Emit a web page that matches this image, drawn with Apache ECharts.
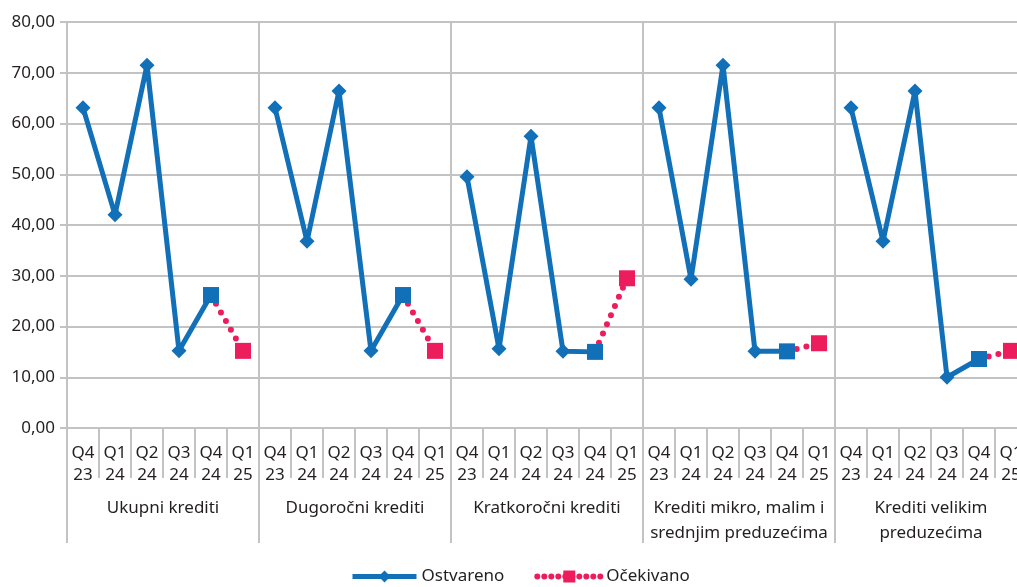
<!DOCTYPE html>
<html>
<head>
<meta charset="utf-8">
<script src="https://cdn.jsdelivr.net/npm/echarts@6/dist/echarts.min.js"></script>
<style>
  html, body { margin: 0; padding: 0; background: #fff; overflow: hidden; }
  #chart { width: 1027px; height: 587px; }
</style>
</head>
<body>
<div id="chart"></div>
<script>
// grupe kredita i kvartali
const groups = ['Ukupni krediti', 'Dugoročni krediti', 'Kratkoročni krediti',
  'Krediti mikro, malim i\nsrednjim preduzećima', 'Krediti velikim\npreduzećima']
const quarters = ['Q4\n23', 'Q1\n24', 'Q2\n24', 'Q3\n24', 'Q4\n24', 'Q1\n25']

// ostvareno po grupama (Q4 23 .. Q4 24)
const ukupni = [63.1, 42.0, 71.5, 15.2, 26.2]
const dugorocni = [63.1, 36.8, 66.4, 15.2, 26.2]
const kratkorocni = [49.5, 15.6, 57.5, 15.1, 15.0]
const mikroMsp = [63.1, 29.3, 71.5, 15.1, 15.1]
const veliki = [63.1, 36.8, 66.4, 10.0, 13.6]

// očekivano za Q1 25
const ocekivanoQ1 = [15.2, 15.2, 29.5, 16.7, 15.2]

const yTicks = [0, 10, 20, 30, 40, 50, 60, 70, 80]

const BLUE = '#1170b8'
const PINK = '#ec1c5d'
const GRID = '#c3c3c3'
const TEXT = '#231f20'
const FONT = 'Noto Sans'

// slaganje 30 kategorija
const categories = []
const ostvareno = []
const ocekivano = []
;[ukupni, dugorocni, kratkorocni, mikroMsp, veliki].forEach((vals, g) => {
  quarters.forEach(q => categories.push(q))
  vals.forEach((v, i) => {
    ostvareno.push(i === 4 ? { value: v, symbol: 'rect', symbolSize: 16 } : v)
    ocekivano.push(i === 4 ? { value: v, symbol: 'none' } : null)
  })
  ostvareno.push(null)
  ocekivano.push(ocekivanoQ1[g])
})

const chart = echarts.init(document.getElementById('chart'))
chart.setOption({
  animation: false,
  textStyle: { fontFamily: FONT },
  grid: { left: 67, top: 22, right: 0, bottom: 159 },
  legend: {
    bottom: -3,
    left: 345,
    itemWidth: 64,
    itemHeight: 15,
    itemGap: 30,
    textStyle: { color: TEXT, fontSize: 17, fontFamily: FONT },
    data: [
      { name: 'Ostvareno', lineStyle: { width: 5 } },
      { name: 'Očekivano', lineStyle: { width: 6, type: [0, 7] } }
    ]
  },
  xAxis: [
    {
      type: 'category',
      data: categories,
      position: 'bottom',
      axisLine: { show: true, lineStyle: { color: GRID, width: 2 } },
      axisTick: { show: true, interval: 0, length: 50, lineStyle: { color: GRID, width: 2 } },
      axisLabel: { interval: 0, color: TEXT, fontSize: 17, lineHeight: 22, margin: 14, fontFamily: FONT },
      splitLine: { show: false }
    },
    {
      type: 'category',
      data: groups,
      position: 'bottom',
      axisLine: { show: false },
      axisTick: { show: true, interval: 0, length: 115, lineStyle: { color: GRID, width: 2 } },
      axisLabel: { interval: 0, color: TEXT, fontSize: 17, lineHeight: 25, margin: 68, fontFamily: FONT, verticalAlign: 'top' },
      splitLine: { show: true, interval: 0, lineStyle: { color: GRID, width: 2 } }
    }
  ],
  yAxis: {
    type: 'value',
    min: yTicks[0],
    max: yTicks[yTicks.length - 1],
    interval: 10,
    axisLine: { show: true, lineStyle: { color: GRID, width: 2 } },
    axisTick: { show: true, length: 7, lineStyle: { color: GRID, width: 2 } },
    axisLabel: {
      color: TEXT, fontSize: 17, margin: 12, fontFamily: FONT,
      formatter: v => v.toFixed(2).replace('.', ',')
    },
    splitLine: { show: true, lineStyle: { color: GRID, width: 2 } }
  },
  series: [
    {
      name: 'Očekivano',
      type: 'line',
      xAxisIndex: 0,
      data: ocekivano,
      connectNulls: false,
      symbol: 'rect',
      symbolSize: 16,
      itemStyle: { color: PINK },
      lineStyle: { color: PINK, width: 6, type: [0, 10], cap: 'round' },
      z: 2
    },
    {
      name: 'Ostvareno',
      type: 'line',
      xAxisIndex: 0,
      data: ostvareno,
      connectNulls: false,
      symbol: 'diamond',
      symbolSize: 15,
      itemStyle: { color: BLUE },
      lineStyle: { color: BLUE, width: 5 },
      z: 3
    }
  ]
})
</script>
</body>
</html>
